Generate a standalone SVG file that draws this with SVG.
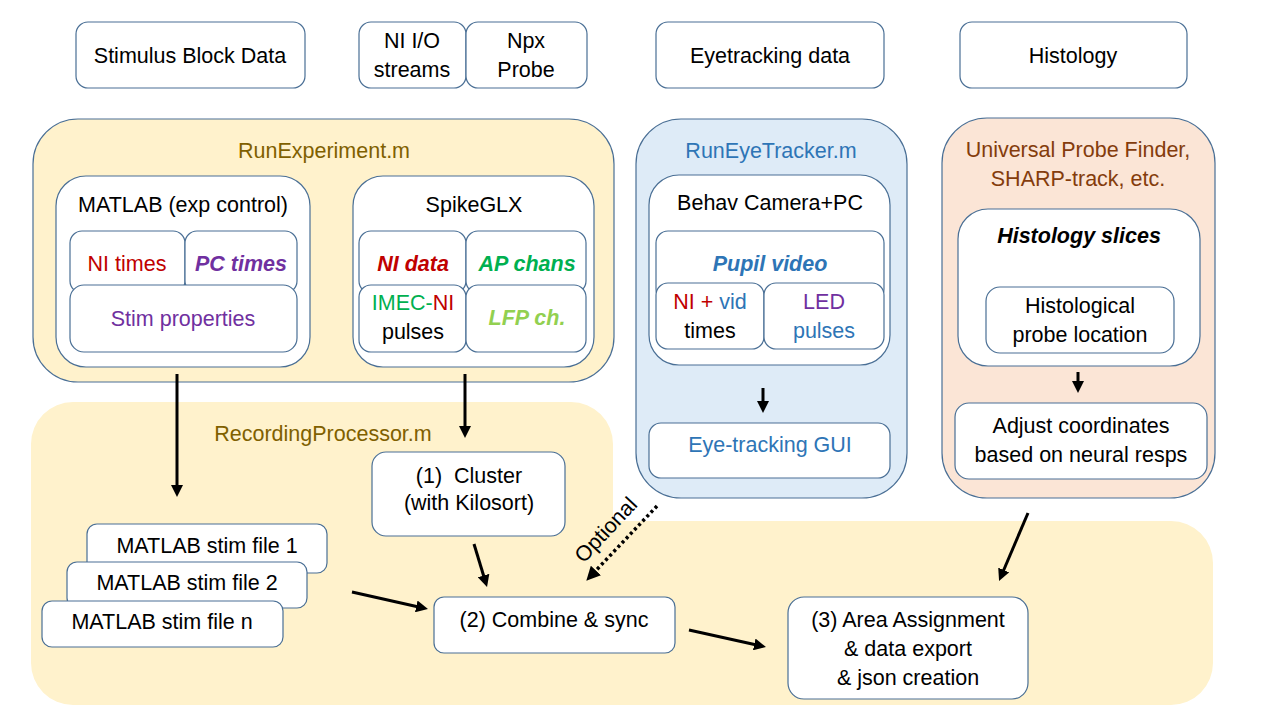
<svg xmlns="http://www.w3.org/2000/svg" width="1280" height="720" viewBox="0 0 1280 720">
<defs>
<style>
text{font-family:"Liberation Sans",Arial,sans-serif;font-size:21.5px;text-anchor:middle;fill:#000}
.box{fill:#fff;stroke:#4a6f95;stroke-width:1.2}
.pnl{stroke:#4a6f95;stroke-width:1.2}
.yel{fill:#fff2cc}
.blu{fill:#deebf7}
.sal{fill:#fbe5d6}
.red{fill:#c00000}
.pur{fill:#7030a0}
.grn{fill:#00b050}
.lgr{fill:#92d050}
.bl{fill:#2e75b6}
.gold{fill:#7f6000}
.brn{fill:#843c0c}
.bi{font-weight:bold;font-style:italic}
.arr{stroke:#000;stroke-width:3;fill:none;marker-end:url(#ah)}
.dot{stroke:#000;stroke-width:3.5;fill:none;stroke-dasharray:3 3;marker-end:url(#ah)}
</style>
<marker id="ah" viewBox="0 0 10 10" refX="5" refY="5" markerWidth="4" markerHeight="4" orient="auto" markerUnits="strokeWidth">
<path d="M0,0 L10,5 L0,10 z" fill="#000"/>
</marker>
</defs>
<rect width="1280" height="720" fill="#fff"/>

<!-- top row -->
<g id="stimulus-block-data">
<rect class="box" x="76" y="22" width="229" height="66" rx="12"/>
<text x="190" y="63">Stimulus Block Data</text>
</g>
<g id="ni-io-streams">
<rect class="box" x="359" y="22" width="107" height="66" rx="12"/>
<text x="412" y="48">NI I/O</text>
<text x="412" y="77">streams</text>
</g>
<g id="npx-probe">
<rect class="box" x="466" y="22" width="121" height="66" rx="12"/>
<text x="526" y="48">Npx</text>
<text x="526" y="77">Probe</text>
</g>
<g id="eyetracking-data">
<rect class="box" x="656" y="22" width="228" height="66" rx="12"/>
<text x="770" y="63">Eyetracking data</text>
</g>
<g id="histology">
<rect class="box" x="960" y="22" width="227" height="66" rx="12"/>
<text x="1073" y="63">Histology</text>
</g>

<!-- RecordingProcessor region -->
<g id="recording-processor">
<path class="yel" d="M73,402 H571 A42,42 0 0 1 613,444 V521 H1171 A42,42 0 0 1 1213,563 V663 A42,42 0 0 1 1171,705 H73 A42,42 0 0 1 31,663 V444 A42,42 0 0 1 73,402 Z"/>
<text class="gold" x="323" y="441">RecordingProcessor.m</text>
</g>

<!-- RunExperiment -->
<g id="run-experiment">
<rect class="pnl yel" x="33" y="119" width="581" height="263" rx="45"/>
<text class="gold" x="324" y="158">RunExperiment.m</text>
</g>
<g id="matlab-exp-control">
<rect class="box" x="56" y="176" width="254" height="191" rx="30"/>
<text x="183" y="212">MATLAB (exp control)</text>
<rect class="box" x="70" y="231" width="115" height="62" rx="12"/>
<text class="red" x="127" y="271">NI times</text>
<rect class="box" x="185" y="231" width="112" height="62" rx="12"/>
<text class="pur bi" x="241" y="271">PC times</text>
<rect class="box" x="70" y="285" width="227" height="67" rx="14"/>
<text class="pur" x="183" y="326">Stim properties</text>
</g>
<g id="spikeglx">
<rect class="box" x="353" y="176" width="241" height="191" rx="30"/>
<text x="474" y="212">SpikeGLX</text>
<rect class="box" x="359" y="231" width="107" height="62" rx="12"/>
<text class="red bi" x="413" y="271">NI data</text>
<rect class="box" x="466" y="231" width="120" height="62" rx="12"/>
<text class="grn bi" x="527" y="271">AP chans</text>
<rect class="box" x="359" y="285" width="107" height="67" rx="12"/>
<text x="413" y="310"><tspan class="grn">IMEC-</tspan><tspan class="red">NI</tspan></text>
<text x="413" y="339">pulses</text>
<rect class="box" x="466" y="285" width="120" height="67" rx="12"/>
<text class="lgr bi" x="527" y="325">LFP ch.</text>
</g>

<!-- RunEyeTracker -->
<g id="run-eye-tracker">
<rect class="pnl blu" x="636" y="119" width="271" height="379" rx="45"/>
<text class="bl" x="771" y="158">RunEyeTracker.m</text>
</g>
<g id="behav-camera">
<rect class="box" x="649" y="175" width="241" height="190" rx="30"/>
<text x="770" y="210">Behav Camera+PC</text>
<rect class="box" x="656" y="231" width="228" height="70" rx="12"/>
<text class="bl bi" x="770" y="271">Pupil video</text>
<rect class="box" x="656" y="283" width="108" height="66" rx="12"/>
<text x="710" y="309"><tspan class="red">NI +</tspan><tspan class="bl"> vid</tspan></text>
<text x="710" y="338">times</text>
<rect class="box" x="764" y="283" width="120" height="66" rx="12"/>
<text class="pur" x="824" y="309">LED</text>
<text class="bl" x="824" y="338">pulses</text>
</g>
<g id="eye-tracking-gui">
<rect class="box" x="649" y="423" width="241" height="55" rx="12"/>
<text class="bl" x="770" y="452">Eye-tracking GUI</text>
</g>

<!-- Universal Probe Finder -->
<g id="universal-probe-finder">
<rect class="pnl sal" x="942" y="118" width="273" height="380" rx="45"/>
<text class="brn" x="1078" y="157">Universal Probe Finder,</text>
<text class="brn" x="1078" y="186">SHARP-track, etc.</text>
</g>
<g id="histology-slices">
<rect class="box" x="958" y="209" width="242" height="157" rx="30"/>
<text class="bi" x="1079" y="243">Histology slices</text>
<rect class="box" x="986" y="287" width="188" height="66" rx="14"/>
<text x="1080" y="313">Histological</text>
<text x="1080" y="342">probe location</text>
</g>
<g id="adjust-coordinates">
<rect class="box" x="955" y="403" width="252" height="76" rx="14"/>
<text x="1081" y="433">Adjust coordinates</text>
<text x="1081" y="462">based on neural resps</text>
</g>

<!-- processing nodes -->
<g id="cluster">
<rect class="box" x="372" y="452" width="193" height="84" rx="14"/>
<text x="469" y="483" xml:space="preserve">(1)  Cluster</text>
<text x="469" y="510">(with Kilosort)</text>
</g>
<g id="stim-file-1">
<rect class="box" x="87" y="524" width="240" height="49" rx="10"/>
<text x="207" y="553">MATLAB stim file 1</text>
</g>
<g id="stim-file-2">
<rect class="box" x="67" y="562" width="240" height="46" rx="10"/>
<text x="187" y="590">MATLAB stim file 2</text>
</g>
<g id="stim-file-n">
<rect class="box" x="42" y="601" width="241" height="46" rx="10"/>
<text x="162" y="629">MATLAB stim file n</text>
</g>
<g id="combine-sync">
<rect class="box" x="434" y="597" width="241" height="56" rx="10"/>
<text x="554" y="627">(2) Combine &amp; sync</text>
</g>
<g id="area-assignment">
<rect class="box" x="788" y="597" width="240" height="102" rx="16"/>
<text x="908" y="627">(3) Area Assignment</text>
<text x="908" y="656">&amp; data export</text>
<text x="908" y="685">&amp; json creation</text>
</g>

<!-- connectors -->
<g id="connectors">
<line class="arr" x1="177" y1="374" x2="177" y2="491"/>
<line class="arr" x1="465" y1="374" x2="465" y2="432"/>
<line class="arr" x1="763" y1="388" x2="763" y2="407"/>
<line class="arr" x1="1078" y1="372" x2="1078" y2="387"/>
<line class="arr" x1="474" y1="544" x2="485.3" y2="581.3"/>
<line class="dot" x1="657" y1="506" x2="591.1" y2="575.6"/>
<line class="arr" x1="352" y1="592" x2="422.1" y2="607.7"/>
<line class="arr" x1="689" y1="630" x2="760.1" y2="645.7"/>
<line class="arr" x1="1028" y1="513" x2="1001.4" y2="575.5"/>
<text transform="translate(606,530) rotate(-47)" x="0" y="7">Optional</text>
</g>
</svg>
